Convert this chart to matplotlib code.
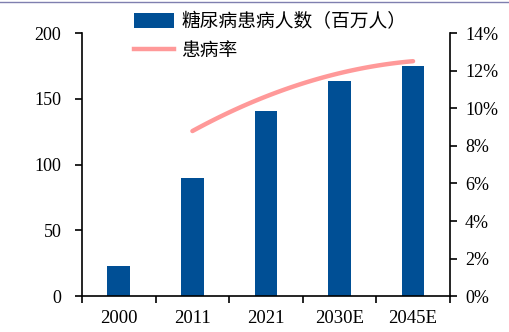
import numpy as np
from matplotlib import pyplot as plt
from matplotlib.lines import Line2D

plt.rcParams['font.family'] = ['Liberation Serif', 'Noto Sans CJK SC']

years = ['2000', '2011', '2021', '2030E', '2045E']
patients = [23, 90, 141, 164, 175]
rate_years = ['2011', '2021', '2030E', '2045E']
rate = [8.8, 10.6, 11.9, 12.5]

fig = plt.figure(figsize=(5.1, 3.32), dpi=100)
ax = fig.add_axes([0.161, 0.108, 0.721, 0.792])
x = np.arange(len(years))
bars = ax.bar(x, patients, 0.31, color='#004F95', label='糖尿病患病人数（百万人）')
ax.set_xlim(-0.5, len(years) - 0.5)
ax.set_ylim(0, 200)
ax.set_yticks([0, 50, 100, 150, 200])
ax.set_xticks(x)
ax.set_xticklabels(years)
ax.set_xticks(np.arange(-0.5, len(years)), minor=True)
ax.tick_params(axis='x', which='major', length=0, pad=10, labelsize=13.5)
ax.tick_params(axis='x', which='minor', length=5, width=1.2, direction='out')
ax.tick_params(axis='y', length=5, width=1.2, labelsize=13, pad=10)
for s in ['top', 'right']:
    ax.spines[s].set_visible(False)
for s in ['left', 'bottom']:
    ax.spines[s].set_linewidth(1.2)

ax2 = ax.twinx()
rx = [years.index(y) for y in rate_years]
# smooth curve through the rate points
xs = np.linspace(rx[0], rx[-1], 100)
coef = np.polyfit(rx, rate, 2)
ax2.plot(xs, np.polyval(coef, xs), color='#FF9999', lw=3.2, solid_capstyle='round')
ax2.set_ylim(0, 14)
ax2.set_yticks(range(0, 15, 2))
ax2.set_yticklabels([f'{v}%' for v in range(0, 15, 2)])
ax2.tick_params(axis='y', length=5, width=1.2, labelsize=13, pad=6)
for s in ['top', 'left', 'bottom']:
    ax2.spines[s].set_visible(False)
ax2.spines['right'].set_linewidth(1.2)

handles = [bars, Line2D([], [], color='#FF9999', lw=3.2)]
labels = ['糖尿病患病人数（百万人）', '患病率']
fig.legend(handles, labels, loc='upper left', bbox_to_anchor=(0.229, 1.018),
           frameon=False, handlelength=2.15, handleheight=0.8, handletextpad=0.4,
           labelspacing=0.45, prop={'family': 'Noto Sans CJK SC', 'size': 13.5})

fig.add_artist(Line2D([0.0, 1.0], [0.993, 0.993], color='#7F7FAF', lw=1))

fig.savefig('out.png', dpi=100)
